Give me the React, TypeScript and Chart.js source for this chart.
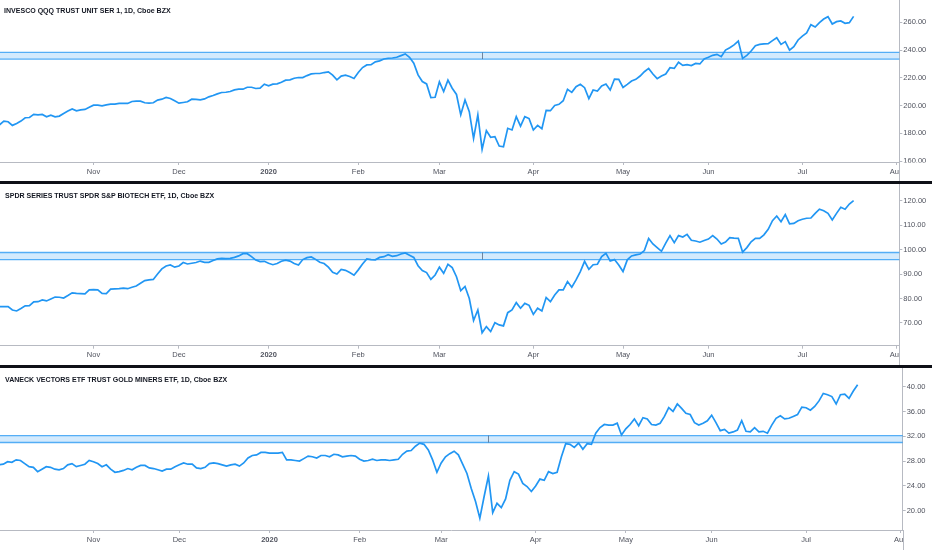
import React, { useEffect, useRef } from "react";
import { Chart, registerables } from "chart.js";

Chart.register(...registerables);

// ---------- DATA ----------
const monthTickIdx = [22, 42, 63, 84, 103, 125, 146, 166, 188, 210];
const monthTickLabels = ["Nov", "Dec", "2020", "Feb", "Mar", "Apr", "May", "Jun", "Jul", "Aug"];
const yearTickIdx = 63;

const qqqTitle = "INVESCO QQQ TRUST UNIT SER 1, 1D, Cboe BZX";
const xbiTitle = "SPDR SERIES TRUST SPDR S&P BIOTECH ETF, 1D, Cboe BZX";
const gdxTitle = "VANECK VECTORS ETF TRUST GOLD MINERS ETF, 1D, Cboe BZX";

const qqqValues = [
  186.1, 188.8, 188.3, 185.7, 187.1, 188.8, 191.2, 191.4, 193.6, 193.3,
  193.6, 191.9, 193.1, 191.9, 192.4, 194.3, 196.0, 197.6, 196.2, 196.9,
  197.2, 198.8, 200.3, 200.3, 199.8, 200.5, 201.0, 201.0, 201.5, 201.5,
  201.5, 202.9, 203.2, 203.2, 202.0, 201.7, 202.0, 203.9, 204.6, 205.8,
  205.1, 203.4, 201.7, 202.2, 202.7, 204.6, 204.4, 204.1, 204.8, 206.3,
  207.2, 208.4, 209.4, 209.6, 210.1, 211.3, 211.8, 211.8, 213.2, 213.2,
  212.3, 212.5, 215.4, 214.2, 215.4, 215.6, 216.8, 218.3, 218.5, 219.7,
  220.2, 220.2, 221.6, 222.8, 223.1, 223.1, 223.8, 224.3, 221.9, 218.5,
  221.2, 221.9, 220.9, 219.5, 223.8, 227.4, 229.3, 229.5, 231.5, 232.2,
  233.6, 234.1, 234.3, 234.8, 236.0, 237.2, 234.8, 230.5, 222.1, 217.3,
  215.6, 205.8, 206.0, 217.1, 210.1, 218.3, 212.5, 208.0, 193.3, 204.0,
  195.6, 176.3, 193.2, 168.4, 181.9, 177.1, 177.5, 170.8, 170.3, 183.6,
  182.4, 192.0, 185.2, 192.0, 190.6, 182.4, 185.7, 183.3, 196.5, 196.3,
  200.1, 200.9, 203.5, 211.7, 209.5, 213.6, 215.3, 212.9, 205.0, 211.2,
  210.5, 214.1, 215.5, 211.2, 219.1, 218.9, 213.1, 215.3, 217.7, 218.9,
  221.3, 224.4, 226.8, 222.7, 219.4, 221.3, 222.7, 227.3, 226.8, 231.2,
  229.0, 229.5, 228.8, 230.4, 230.0, 233.6, 234.8, 236.2, 236.9, 235.2,
  240.0, 241.7, 243.7, 246.5, 234.0, 236.2, 239.3, 243.2, 244.1, 244.4,
  244.6, 246.8, 248.9, 244.1, 246.1, 240.0, 242.5, 247.3, 250.1, 252.3,
  258.3, 256.6, 259.8, 262.4, 264.1, 258.8, 260.5, 261.0, 259.3, 259.8,
  264.3,
];

const xbiValues = [
  76.7, 76.7, 76.7, 75.3, 74.9, 75.9, 77.0, 77.1, 78.6, 78.7,
  79.4, 79.0, 79.8, 80.6, 80.5, 80.2, 81.2, 82.3, 82.1, 82.0,
  81.9, 83.5, 83.6, 83.5, 82.1, 82.0, 83.8, 83.9, 84.0, 84.2,
  84.0, 84.6, 85.1, 86.2, 87.3, 87.6, 87.8, 90.0, 92.1, 93.3,
  93.7, 92.8, 93.3, 94.7, 94.1, 94.4, 94.7, 95.3, 94.8, 94.8,
  95.5, 96.2, 96.4, 96.3, 96.4, 96.8, 97.4, 98.3, 98.3, 97.1,
  95.7, 95.1, 95.2, 94.4, 93.8, 94.3, 95.2, 95.7, 95.3, 94.3,
  93.7, 95.9, 96.7, 97.0, 96.0, 94.8, 94.3, 92.8, 90.7, 90.0,
  91.9, 91.5, 90.6, 89.5, 91.7, 94.1, 96.2, 95.9, 95.8, 96.8,
  97.1, 97.9, 97.2, 97.5, 98.2, 98.6, 97.7, 96.8, 93.4, 91.4,
  90.6, 87.8, 89.6, 92.8, 90.3, 94.0, 92.6, 88.9, 83.2, 84.9,
  80.0, 71.0, 75.3, 66.0, 68.5, 66.5, 70.1, 69.2, 68.8, 74.2,
  75.3, 78.3, 76.0, 78.0, 77.2, 73.5, 76.0, 74.9, 80.4, 78.7,
  81.4, 83.5, 83.5, 86.9, 84.6, 87.6, 91.0, 95.2, 91.9, 93.8,
  94.0, 97.1, 98.5, 95.3, 95.9, 93.7, 91.0, 95.8, 97.4, 97.8,
  98.2, 99.6, 104.5, 102.3, 100.8, 99.3, 102.6, 105.7, 102.8, 105.7,
  105.1, 106.2, 103.8, 103.5, 103.0, 103.7, 104.3, 105.7, 104.3, 102.3,
  103.1, 104.9, 104.7, 104.6, 99.0, 100.8, 103.2, 104.6, 104.6, 106.0,
  108.3, 111.8, 113.7, 111.4, 114.3, 110.5, 110.7, 111.8, 112.4, 112.8,
  112.9, 114.8, 116.5, 115.9, 114.8, 112.1, 114.8, 117.3, 116.5, 118.6,
  120.0,
];

const gdxValues = [
  27.4, 27.5, 27.9, 27.8, 28.2, 28.1, 27.6, 27.1, 27.0, 26.3,
  26.7, 27.1, 27.0, 26.7, 26.6, 26.8, 27.4, 27.6, 27.1, 27.3,
  27.5, 28.1, 27.9, 27.6, 27.1, 27.4, 26.7, 26.2, 26.3, 26.5,
  26.8, 26.6, 27.0, 27.3, 27.3, 26.9, 26.8, 26.6, 26.4, 26.7,
  26.7, 27.1, 27.4, 27.7, 27.5, 27.5, 26.9, 26.8, 27.0, 27.6,
  27.7, 27.6, 27.4, 27.2, 27.4, 27.5, 27.2, 27.7, 28.5, 28.9,
  29.0, 29.4, 29.4, 29.3, 29.3, 29.3, 29.4, 28.2, 28.2, 28.1,
  28.0, 28.4, 28.8, 28.7, 28.5, 28.9, 28.9, 28.7, 29.1, 29.0,
  28.7, 28.8, 28.9, 28.8, 28.3, 28.0, 28.1, 28.3, 28.1, 28.2,
  28.2, 28.1, 28.2, 28.3, 29.1, 29.6, 29.7, 30.4, 30.9, 30.7,
  29.8, 28.2, 26.2, 27.7, 28.7, 29.2, 29.6, 29.0, 27.5, 26.0,
  23.6, 21.5, 18.8, 22.3, 25.6, 19.7, 21.2, 20.5, 21.9, 24.9,
  26.3, 25.9, 24.4, 23.9, 23.1, 24.0, 25.1, 24.9, 26.3, 26.0,
  26.2, 28.7, 30.8, 30.7, 30.2, 30.9, 29.9, 30.8, 30.7, 32.5,
  33.4, 33.9, 33.8, 33.8, 34.1, 32.2, 33.2, 33.9, 34.8, 33.7,
  35.0, 34.8, 33.9, 33.8, 34.1, 35.2, 36.6, 36.0, 37.2, 36.5,
  35.7, 35.5, 34.2, 33.8, 34.1, 34.5, 35.4, 34.2, 32.9, 33.1,
  32.5, 32.7, 33.0, 34.5, 32.8, 32.7, 33.4, 32.7, 32.8, 32.5,
  33.8, 34.9, 35.3, 34.8, 34.9, 35.2, 35.5, 36.7, 36.6, 36.2,
  36.8, 37.7, 38.9, 38.7, 38.4, 37.2, 38.7, 38.8, 38.1, 39.3,
  40.3,
];

const qqqTicks = [160, 180, 200, 220, 240, 260];
const xbiTicks = [70, 80, 90, 100, 110, 120];
const gdxTicks = [20, 24, 28, 32, 36, 40];

const qqqBand = [233.5, 238.3];
const xbiBand = [95.9, 98.8];
const gdxBand = [31.0, 32.1];

const qqqBandMark = 113;
const xbiBandMark = 113;
const gdxBandMark = 114;

// ---------- LAYOUT / STYLE ----------
const W = 932;
const LINE_COLOR = "#2196f3";
const AXIS_COLOR = "#b7bac2";
const LABEL_COLOR = "#50535e";
const FONT = "'Liberation Sans', Arial, sans-serif";

type PanelCfg = {
  title: string;
  values: number[];
  yTicks: number[];
  band: number[];
  bandMark: number;
  top: number;
  height: number;
  xAxisH: number;
  yAxisW: number;
  yMin: number;
  yMax: number;
  xMin: number;
  xMax: number;
  titleTop: number;
  titleLeft: number;
};

const PANELS: PanelCfg[] = [
  {
    title: qqqTitle, values: qqqValues, yTicks: qqqTicks, band: qqqBand, bandMark: qqqBandMark,
    top: 0, height: 181, xAxisH: 19, yAxisW: 32.7, yMin: 159.3, yMax: 276.1,
    xMin: 0.1, xMax: 210.7, titleTop: 7, titleLeft: 4,
  },
  {
    title: xbiTitle, values: xbiValues, yTicks: xbiTicks, band: xbiBand, bandMark: xbiBandMark,
    top: 184, height: 181, xAxisH: 19.3, yAxisW: 32.7, yMin: 60.7, yMax: 126.8,
    xMin: 0.1, xMax: 210.7, titleTop: 7.7, titleLeft: 5,
  },
  {
    title: gdxTitle, values: gdxValues, yTicks: gdxTicks, band: gdxBand, bandMark: gdxBandMark,
    top: 368, height: 182, xAxisH: 20, yAxisW: 29.3, yMin: 16.9, yMax: 43.0,
    xMin: 0.23, xMax: 210.5, titleTop: 8, titleLeft: 5,
  },
];

const SEPARATORS = [
  { top: 181, height: 3 },
  { top: 365, height: 3 },
];

function Panel({ cfg }: { cfg: PanelCfg }) {
  const ref = useRef<HTMLCanvasElement | null>(null);

  useEffect(() => {
    const canvas = ref.current;
    if (!canvas) return;

    const bandPlugin = {
      id: "bandPlugin",
      beforeDatasetsDraw(chart: any) {
        const { ctx, chartArea, scales } = chart;
        const y = scales.y;
        const x = scales.x;
        const yTop = y.getPixelForValue(cfg.band[1]);
        const yBot = y.getPixelForValue(cfg.band[0]);
        ctx.save();
        ctx.fillStyle = "rgba(33,150,243,0.2)";
        ctx.fillRect(chartArea.left, yTop, chartArea.right - chartArea.left, yBot - yTop);
        ctx.strokeStyle = "rgba(33,150,243,0.75)";
        ctx.lineWidth = 1.3;
        ctx.beginPath();
        ctx.moveTo(chartArea.left, yTop);
        ctx.lineTo(chartArea.right, yTop);
        ctx.moveTo(chartArea.left, yBot);
        ctx.lineTo(chartArea.right, yBot);
        ctx.stroke();
        const xm = Math.round(x.getPixelForValue(cfg.bandMark)) + 0.5;
        ctx.strokeStyle = "rgba(80,100,125,0.75)";
        ctx.lineWidth = 1;
        ctx.beginPath();
        ctx.moveTo(xm, yTop);
        ctx.lineTo(xm, yBot);
        ctx.stroke();
        ctx.restore();
      },
      afterDraw(chart: any) {
        const { ctx, chartArea } = chart;
        const h = chart.height;
        ctx.save();
        ctx.fillStyle = "#ffffff";
        ctx.fillRect(chartArea.right + 0.6, chartArea.bottom + 0.6, W, h);
        ctx.strokeStyle = AXIS_COLOR;
        ctx.lineWidth = 1;
        const xr = Math.round(chartArea.right) + 0.5;
        ctx.beginPath();
        ctx.moveTo(xr, chartArea.bottom);
        ctx.lineTo(xr, h);
        ctx.stroke();
        ctx.restore();
      },
    };

    const chart = new Chart(canvas, {
      type: "line",
      data: {
        datasets: [
          {
            data: cfg.values.map((v, i) => ({ x: i, y: v })),
            borderColor: LINE_COLOR,
            borderWidth: 1.7,
            pointRadius: 0,
            pointHoverRadius: 0,
            tension: 0,
            fill: false,
          },
        ],
      },
      options: {
        responsive: false,
        animation: false,
        events: [],
        layout: { padding: 0 },
        plugins: {
          legend: { display: false },
          tooltip: { enabled: false },
          title: { display: false },
        },
        scales: {
          x: {
            type: "linear",
            min: cfg.xMin,
            max: cfg.xMax,
            grid: {
              drawOnChartArea: false,
              drawTicks: true,
              tickLength: 3,
              color: AXIS_COLOR,
            },
            border: { display: true, color: AXIS_COLOR },
            ticks: {
              autoSkip: false,
              maxRotation: 0,
              minRotation: 0,
              padding: 2,
              color: LABEL_COLOR,
              font: (c: any) => ({
                family: FONT,
                size: 7.5,
                weight: c.tick && c.tick.value === yearTickIdx ? "bold" : "normal",
              }),
              callback: (value: any) => {
                const k = monthTickIdx.indexOf(Number(value));
                return k >= 0 ? monthTickLabels[k] : "";
              },
            },
            afterBuildTicks: (scale: any) => {
              scale.ticks = monthTickIdx.map((v) => ({ value: v }));
            },
            afterFit: (scale: any) => {
              scale.height = cfg.xAxisH;
              scale.paddingLeft = 0;
              scale.paddingRight = 0;
              scale.paddingTop = 0;
              scale.paddingBottom = 0;
            },
          },
          y: {
            type: "linear",
            position: "right",
            min: cfg.yMin,
            max: cfg.yMax,
            grid: {
              drawOnChartArea: false,
              drawTicks: true,
              tickLength: 3,
              color: AXIS_COLOR,
            },
            border: { display: true, color: AXIS_COLOR },
            ticks: {
              padding: 1,
              color: LABEL_COLOR,
              font: { family: FONT, size: 7.5 },
              callback: (value: any) => Number(value).toFixed(2),
            },
            afterBuildTicks: (scale: any) => {
              scale.ticks = cfg.yTicks.map((v) => ({ value: v }));
            },
            afterFit: (scale: any) => {
              scale.width = cfg.yAxisW;
              scale.paddingTop = 0;
              scale.paddingBottom = 0;
              scale.paddingLeft = 0;
              scale.paddingRight = 0;
            },
          },
        },
      },
      plugins: [bandPlugin],
    } as any);

    return () => {
      chart.destroy();
    };
  }, [cfg]);

  return (
    <div
      style={{
        position: "absolute",
        left: 0,
        top: cfg.top,
        width: W,
        height: cfg.height,
        overflow: "hidden",
      }}
    >
      <canvas
        ref={ref}
        width={W}
        height={cfg.height}
        style={{ display: "block", width: W, height: cfg.height }}
      />
      <div
        style={{
          position: "absolute",
          left: cfg.titleLeft,
          top: cfg.titleTop,
          fontFamily: FONT,
          fontWeight: "bold",
          fontSize: 8,
          lineHeight: "8px",
          color: "#131722",
          whiteSpace: "nowrap",
          transform: "scaleX(0.88)",
          transformOrigin: "left center",
        }}
      >
        {cfg.title}
      </div>
    </div>
  );
}

export default function App() {
  return (
    <div
      style={{
        position: "fixed",
        left: 0,
        top: 0,
        width: W,
        height: 550,
        background: "#ffffff",
        overflow: "hidden",
      }}
    >
      {PANELS.map((p, i) => (
        <Panel key={i} cfg={p} />
      ))}
      {SEPARATORS.map((s, i) => (
        <div
          key={"s" + i}
          style={{
            position: "absolute",
            left: 0,
            top: s.top,
            width: W,
            height: s.height,
            background: "#0e1017",
          }}
        />
      ))}
    </div>
  );
}
